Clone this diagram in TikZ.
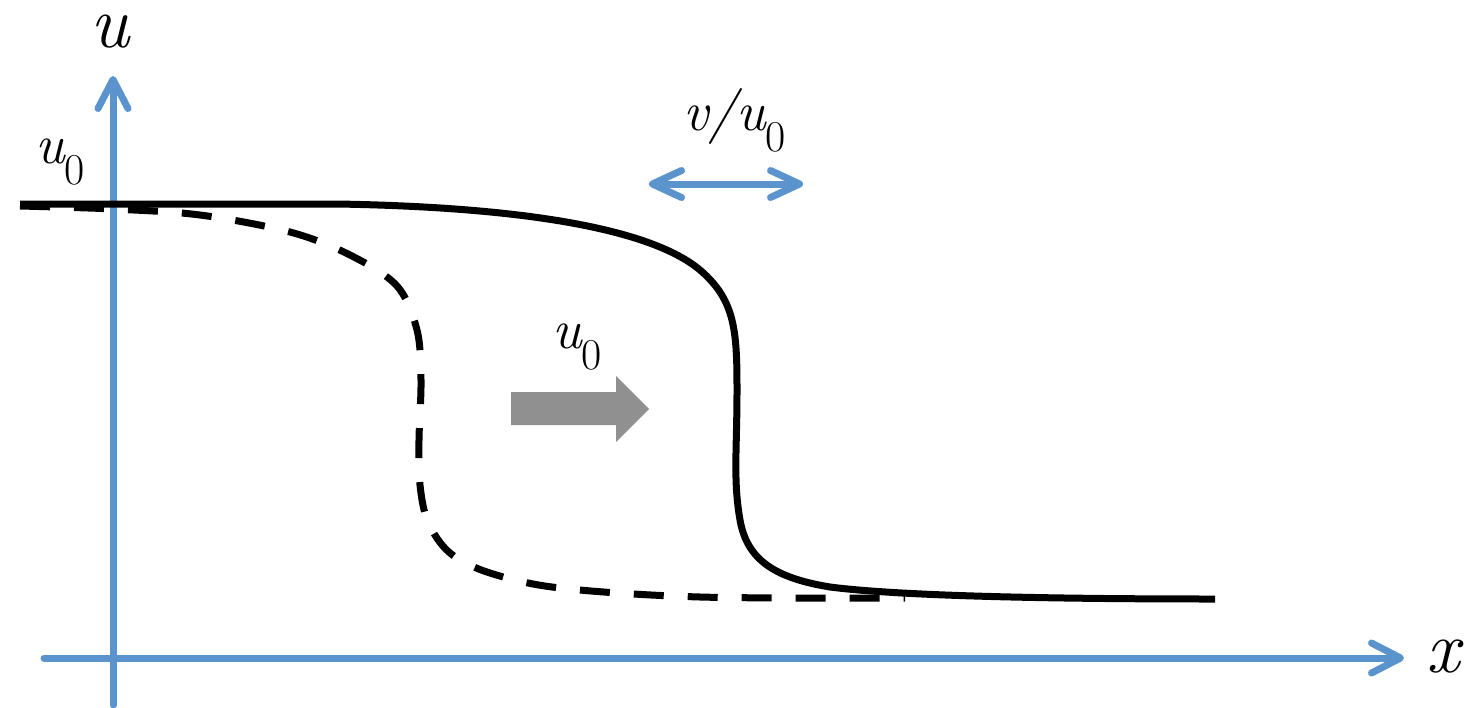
\documentclass[tikz,border=0pt]{standalone}
\usetikzlibrary{arrows.meta}
\definecolor{axisblue}{RGB}{91,148,204}
\definecolor{arrowgray}{RGB}{144,144,144}
\newcommand{\uzero}{{\itshape u}\raisebox{-0.38em}{\fontsize{44}{44}\selectfont 0}}
\begin{document}
\begin{tikzpicture}[x=1pt,y=-1pt,
  axis/.style={draw=axisblue,line width=7pt,line cap=round,
    -{Straight Barb[length=29pt,width=30pt,line cap=round,line join=round]}},
  dblarrow/.style={draw=axisblue,line width=7pt,line cap=round,
    {Straight Barb[length=29pt,width=27pt,line cap=round,line join=round]}-{Straight Barb[length=29pt,width=27pt,line cap=round,line join=round]}},
  curve/.style={draw=black,line width=7pt},
  dashcurve/.style={draw=black,line width=7pt,dash pattern=on 30pt off 24pt},
  biglab/.style={inner sep=0pt,font=\fontsize{74}{74}\selectfont\itshape},
  lab/.style={inner sep=0pt,anchor=base west,font=\fontsize{56}{56}\selectfont}]
\useasboundingbox (0,0) rectangle (1469,707);
% axes
\coordinate (yb) at (113,705);
\coordinate (yt) at (113,76);
\coordinate (xl) at (44,658);
\coordinate (xr) at (1404,658);
\draw[axis] (yb) -- (yt);
\draw[axis] (xl) -- (xr);
\node[biglab] (ulab) at (110,32) {u};
\node[biglab] (xlab) at (1443,657) {x};
% curves
\draw[curve] (20,204) -- (337,204)
  .. controls (520,207) and (650,228) .. (700,270)
  .. controls (735,300) and (737,330) .. (737,390)
  .. controls (737,450) and (733,480) .. (740,520)
  .. controls (747,560) and (775,578) .. (830,587)
  .. controls (900,596) and (1050,599) .. (1215,599);
\draw[dashcurve] plot[smooth,tension=0.55] coordinates {(20,206) (113,209) (200,215) (290,232) (350,255) (397,286) (417,330) (421,380) (419,440) (420,485) (428,522) (450,553) (490,573) (560,588) (700,597) (905,598)};
% labels
\node[lab] (u0a) at (35,163) {\uzero};
\node[lab] (u0b) at (552,348) {\uzero};
\node[lab] (vu0) at (683,130) {{\itshape v/}\uzero};
% double arrow
\coordinate (dl) at (649,184);
\coordinate (dr) at (803,184);
\draw[dblarrow] (dl) -- (dr);
% gray block arrow
\fill[arrowgray] (511,392) -- (616,392) -- (616,376) -- (649,409) -- (616,442) -- (616,425) -- (511,425) -- cycle;
\end{tikzpicture}
\end{document}
